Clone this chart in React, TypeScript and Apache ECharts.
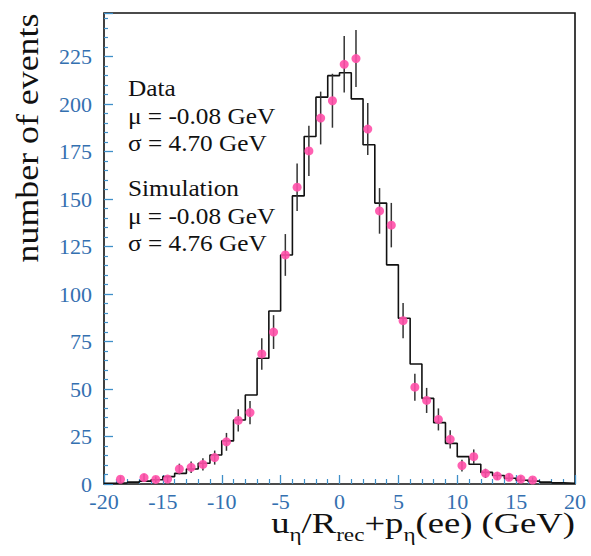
import React, { useEffect, useRef } from "react";
import * as echarts from "echarts";

// Simulation histogram: left bin edges (GeV) and counts
const simEdges: number[] = [
  -20, -19, -18, -17, -16, -15, -14, -13, -12, -11,
  -10, -9, -8, -7, -6, -5, -4, -3, -2, -1,
  0, 1, 2, 3, 4, 5, 6, 7, 8, 9,
  10, 11, 12, 13, 14, 15, 16, 17, 18, 19,
];
const simCounts: number[] = [
  0.4, 0.6, 1, 1.5, 2.2, 3.9, 5.6, 7.9, 10.9, 15.3,
  22.7, 33.7, 46.9, 66.2, 91.1, 120.6, 151.7, 183, 203.7, 215,
  216.5, 202.8, 178.6, 147.9, 115.4, 87.3, 63.2, 45.1, 32.3, 21.4,
  14.4, 10.4, 6.1, 4.5, 3, 2, 1.5, 1, 0.6, 0.4,
];
const simEnd = 20;

// Data points
const dataX: number[] = [
  -18.6, -16.6, -15.6, -14.6, -13.6, -12.6, -11.6, -10.6, -9.6, -8.6,
  -7.6, -6.6, -5.6, -4.6, -3.6, -2.6, -1.6, -0.6, 0.4, 1.4,
  2.4, 3.4, 4.4, 5.4, 6.4, 7.4, 8.4, 9.4, 10.4, 11.4,
  12.4, 13.4, 14.4, 15.4, 16.4,
];
const dataY: number[] = [
  2.5, 3.4, 2.4, 2.6, 7.9, 8.8, 10.3, 13.9, 22.2, 33.5,
  37.6, 68.5, 80, 120.6, 156.3, 175.4, 192.7, 201.8, 221, 224,
  186.9, 143.8, 136.3, 86, 51, 44, 34, 23.5, 9.7, 14.4,
  5.6, 4.2, 3.5, 2.6, 2.1,
];
const dataErr: number[] = [
  1.6, 1.8, 1.5, 1.6, 2.8, 3.0, 3.2, 3.7, 4.7, 5.8,
  6.1, 8.3, 8.9, 11.0, 12.5, 13.2, 13.9, 14.2, 14.9, 15.0,
  13.7, 12.0, 11.7, 9.3, 7.1, 6.6, 5.8, 4.8, 3.1, 3.8,
  2.4, 2.0, 1.9, 1.6, 1.4,
];

const infoLines: string[] = [
  "Data",
  "μ = -0.08 GeV",
  "σ = 4.70 GeV",
  "Simulation",
  "μ = -0.08 GeV",
  "σ = 4.76 GeV",
];
const infoY: number[] = [88, 116, 143, 188, 216, 243];

// x-axis title pieces: [text, isSubscript]
const titlePieces: [string, boolean][] = [
  ["u", false],
  ["η", true],
  ["/R", false],
  ["rec", true],
  ["+p", false],
  ["η", true],
  ["(ee) (GeV)", false],
];

const SERIF_NAME = "Liberation Serif";
const SERIF = "'Liberation Serif', 'DejaVu Serif', serif";
const LABEL_COLOR = "#3470b0";
const TICK_COLOR = "#3f8fc8";

export default function App() {
  const ref = useRef<HTMLDivElement>(null);

  useEffect(() => {
    document.body.style.margin = "0";
    if (!ref.current) return;
    const chart = echarts.init(ref.current, null, { renderer: "svg" });

    const histData: number[][] = simEdges.map((e, i) => [e, simCounts[i]]);
    histData.push([simEnd, simCounts[simCounts.length - 1]]);

    const errData = dataX.map((x, i) => [
      x,
      Math.max(0, dataY[i] - dataErr[i]),
      dataY[i] + dataErr[i],
    ]);

    const graphic: any[] = infoLines.map((t, i) => ({
      type: "text",
      x: 128,
      y: infoY[i],
      scaleX: 1.1,
      style: {
        text: t,
        fontSize: 23,
        fontFamily: SERIF,
        fill: "#111",
        align: "left",
        textAlign: "left",
        verticalAlign: "middle",
        textVerticalAlign: "middle",
      },
    }));

    graphic.push({
      type: "text",
      x: 27,
      y: 138,
      rotation: Math.PI / 2,
      scaleX: 1.12,
      style: {
        text: "number of events",
        fontSize: 32,
        fontFamily: SERIF,
        fill: "#111",
        align: "center",
        textAlign: "center",
        verticalAlign: "middle",
        textVerticalAlign: "middle",
      },
    });

    // x-axis title built from measured pieces
    const canvas = document.createElement("canvas");
    const ctx = canvas.getContext("2d");
    const mainSize = 30;
    const subSize = 19;
    const measure = (t: string, size: number) => {
      if (!ctx) return t.length * size * 0.5;
      ctx.font = `${size}px '${SERIF_NAME}'`;
      return ctx.measureText(t).width;
    };
    let cx = 0;
    const children: any[] = [];
    titlePieces.forEach(([t, sub]) => {
      const size = sub ? subSize : mainSize;
      const baseline = sub ? 541 : 533;
      children.push({
        type: "text",
        x: cx,
        y: baseline - 0.33 * size,
        style: {
          text: t,
          fontSize: size,
          fontFamily: SERIF,
          fill: "#111",
          align: "left",
          textAlign: "left",
          verticalAlign: "middle",
          textVerticalAlign: "middle",
        },
      });
      cx += measure(t, size);
    });
    const titleScale = 1.22;
    graphic.push({
      type: "group",
      x: 575 - cx * titleScale,
      y: 0,
      scaleX: titleScale,
      children,
    });

    chart.setOption({
      animation: false,
      backgroundColor: "#ffffff",
      grid: {
        left: 104,
        right: 16,
        top: 13,
        bottom: 72,
        show: true,
        borderColor: "#111",
        borderWidth: 1.6,
        backgroundColor: "transparent",
      },
      xAxis: {
        type: "value",
        min: -20,
        max: 20,
        interval: 5,
        axisLine: { show: false, onZero: false },
        splitLine: { show: false },
        axisTick: {
          show: true,
          inside: true,
          length: 9,
          lineStyle: { color: TICK_COLOR, width: 1.3 },
        },
        minorTick: {
          show: true,
          splitNumber: 5,
          length: 5,
          lineStyle: { color: TICK_COLOR, width: 1.2 },
        },
        axisLabel: {
          fontFamily: SERIF,
          fontSize: 22,
          color: LABEL_COLOR,
          margin: 6,
        },
      },
      yAxis: {
        type: "value",
        min: 0,
        max: 248,
        interval: 25,
        axisLine: { show: false, onZero: false },
        splitLine: { show: false },
        axisTick: {
          show: true,
          inside: true,
          length: 9,
          lineStyle: { color: TICK_COLOR, width: 1.3 },
        },
        minorTick: {
          show: true,
          splitNumber: 5,
          length: 4,
          lineStyle: { color: TICK_COLOR, width: 1.2 },
        },
        axisLabel: {
          fontFamily: SERIF,
          fontSize: 22,
          color: LABEL_COLOR,
          margin: 12,
          formatter: (v: number) => (v % 25 === 0 ? String(v) : ""),
        },
      },
      series: [
        {
          type: "line",
          step: "end",
          data: histData,
          showSymbol: false,
          symbol: "none",
          lineStyle: { color: "#111", width: 1.6 },
          z: 2,
        },
        {
          type: "custom",
          data: errData,
          renderItem: (params: any, api: any) => {
            const x = api.value(0);
            const p1 = api.coord([x, api.value(1)]);
            const p2 = api.coord([x, api.value(2)]);
            return {
              type: "line",
              shape: { x1: p1[0], y1: p1[1], x2: p2[0], y2: p2[1] },
              style: { stroke: "#333", lineWidth: 1.5 },
            };
          },
          z: 3,
        },
        {
          type: "scatter",
          data: dataX.map((x, i) => [x, dataY[i]]),
          symbol: "circle",
          symbolSize: 9,
          itemStyle: { color: "#ff4fa8", opacity: 0.9 },
          z: 4,
        },
      ],
      graphic,
    });

    return () => chart.dispose();
  }, []);

  return <div ref={ref} style={{ width: 591, height: 556 }} />;
}
